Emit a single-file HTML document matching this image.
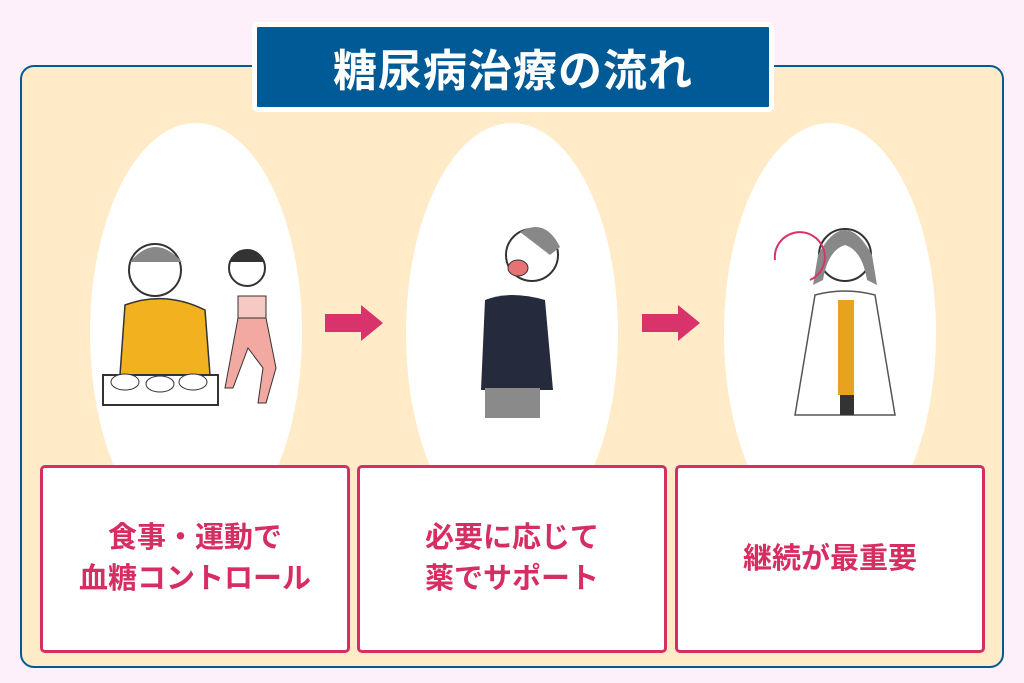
<!DOCTYPE html>
<html><head><meta charset="utf-8"><style>
body{margin:0;width:1024px;height:683px;background:#fdf0fa;position:relative;overflow:hidden;font-family:"Liberation Sans","Noto Sans CJK JP",sans-serif;}
.frame{position:absolute;left:20px;top:65px;width:980px;height:599px;background:#ffebc8;border:2px solid #005a96;border-radius:14px;overflow:hidden}
.ell{position:absolute;background:#fff;border-radius:50%;width:212px;height:420px;top:56px}
.box{position:absolute;top:398px;width:304px;height:182px;background:#fff;border:3px solid #d62e62;border-radius:5px;display:flex;align-items:center;justify-content:center;text-align:center;color:#d62e62;font-weight:bold;font-size:29px;line-height:41px}
.title{position:absolute;left:252px;top:22px;width:512px;height:80px;background:#005a96;border:5px solid #fff;border-radius:6px;color:#fff;font-weight:bold;font-size:44px;display:flex;align-items:center;justify-content:center;letter-spacing:1px}
.arr{position:absolute;top:305px}
</style></head><body>
<div class="frame">
<div class="ell" style="left:68px"></div>
<div class="ell" style="left:384px"></div>
<div class="ell" style="left:702px"></div>
<div class="box" style="left:18px">食事・運動で<br>血糖コントロール</div>
<div class="box" style="left:335px">必要に応じて<br>薬でサポート</div>
<div class="box" style="left:653px">継続が最重要</div>
</div>
<div class="title">糖尿病治療の流れ</div>
<svg class="arr" style="left:325px" width="60" height="36"><polygon points="0,9 36,9 36,0 58,18 36,36 36,27 0,27" fill="#d8336a"/></svg>
<svg class="arr" style="left:642px" width="60" height="36"><polygon points="0,9 36,9 36,0 58,18 36,36 36,27 0,27" fill="#d8336a"/></svg>
<svg style="position:absolute;left:0;top:0" width="1024" height="683">
<circle cx="155" cy="270" r="26" fill="#fff" stroke="#333" stroke-width="2"/>
<path d="M130 262 q25 -30 52 0 z" fill="#888"/>
<path d="M125 305 q40 -15 80 5 l5 65 h-90 z" fill="#f2b21f" stroke="#333" stroke-width="1.5"/>
<rect x="103" y="375" width="115" height="30" fill="#fff" stroke="#333" stroke-width="2"/>
<ellipse cx="125" cy="382" rx="14" ry="8" fill="#fff" stroke="#333"/><ellipse cx="160" cy="384" rx="14" ry="8" fill="#fff" stroke="#333"/><ellipse cx="193" cy="382" rx="14" ry="8" fill="#fff" stroke="#333"/>
<circle cx="247" cy="268" r="18" fill="#fff" stroke="#333" stroke-width="2"/>
<path d="M230 262 q17 -25 34 0" fill="#333"/>
<rect x="238" y="296" width="28" height="22" fill="#f6c9c3" stroke="#333"/>
<path d="M238 318 h28 l10 50 l-10 35 h-8 l5 -35 l-15 -20 l-15 40 h-8 z" fill="#f2a9a2" stroke="#333"/>
<circle cx="532" cy="255" r="26" fill="#fff" stroke="#333" stroke-width="2"/>
<path d="M520 232 q25 -15 40 15 l-10 8 z" fill="#888"/>
<ellipse cx="518" cy="268" rx="10" ry="8" fill="#e57373" stroke="#333"/>
<path d="M485 300 q25 -10 60 0 l8 90 h-72 z" fill="#252a3d"/>
<rect x="485" y="388" width="55" height="30" fill="#8a8a8a"/>
<circle cx="845" cy="255" r="26" fill="#fff" stroke="#333" stroke-width="2"/>
<path d="M818 255 q27 -50 54 0 l5 30 l-10 -5 q-5 -30 -22 -35 q-17 5 -22 35 l-10 5 z" fill="#888"/>
<path d="M815 295 q30 -8 60 0 l20 120 h-100 z" fill="#fff" stroke="#555" stroke-width="1.5"/>
<rect x="838" y="300" width="16" height="95" fill="#e8a31e"/>
<rect x="840" y="395" width="14" height="20" fill="#333"/>
<path d="M775 260 a25 25 0 1 1 35 20" fill="none" stroke="#d8336a" stroke-width="2"/>
</svg>
</body></html>
